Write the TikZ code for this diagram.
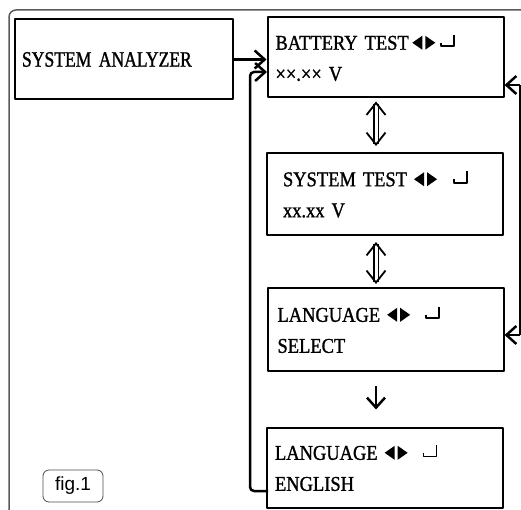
\documentclass[tikz,border=0pt]{standalone}
\usepackage{fontspec}
\setmainfont{Liberation Serif}[FakeStretch=0.88, FakeBold=1.2]
\setsansfont{Liberation Sans}
\usetikzlibrary{arrows.meta}

% small key glyphs used in the menu lines
\newcommand{\navkeys}{\tikz[baseline=0pt,x=1pt,y=1pt]{\fill (0,7) -- (10,14) -- (10,0) -- cycle; \fill (13,0) -- (23,7) -- (13,14) -- cycle;}}
\newcommand{\retkey}{\tikz[baseline=0pt,x=1pt,y=1pt,line width=1.6pt]{\draw (0,7) -- (0,3.5) -- (13,3.5) -- (13,15);}}

\begin{document}
\begin{tikzpicture}[x=1pt, y=-1pt, line join=round, >={Straight Barb[length=10pt,width=18pt]},
  panel/.style={draw, line width=2pt, minimum width=236pt, minimum height=80pt, text width=220pt,
    inner xsep=8pt, align=left, font=\fontsize{21}{31}\selectfont},
  link/.style={line width=2.5pt, ->},
  swap/.style={double, double distance=3pt, line width=1.8pt,
    {Straight Barb[length=12pt,width=19pt]}-{Straight Barb[length=12pt,width=19pt]}}]
  \clip (0,0) rectangle (521,510);
  % --- outer frame ---
  \draw[black!65, line width=1.5pt, rounded corners=7pt] (521,10) -- (9,10) -- (9,515);
  % --- menu boxes ---
  \node[panel, minimum width=218pt, text width=204pt, inner xsep=7pt,
    font=\addfontfeatures{FakeStretch=0.8}\fontsize{22}{22}\selectfont] (analyzer) at (124,59.5) {SYSTEM ANALYZER};
  \node[panel] (battery) at (385.5,57.5) {BATTERY TEST\,\navkeys\hspace{5pt}\retkey\\ ××.×× V};
  \node[panel, minimum height=82pt, text width=204pt, inner xsep=16pt] (systest) at (385,194) {SYSTEM TEST \navkeys\hspace{16pt}\retkey\\ xx.xx V};
  \node[panel, minimum height=83pt, text width=216pt, inner xsep=10pt] (langsel) at (385.5,329.5) {LANGUAGE \navkeys\hspace{15pt}\retkey\\ SELECT};
  \node[panel, text width=220pt, inner xsep=7pt] (langeng) at (385,467.5) {LANGUAGE \navkeys\hspace{15pt}\retkey\\ ENGLISH};
  \node[draw=black!70, line width=0.8pt, rounded corners=6pt, minimum width=60pt, minimum height=32pt,
    font=\sffamily\fontsize{19}{19}\selectfont] (figtag) at (73,486) {fig.1};
  % --- connectors ---
  \draw[link] (analyzer.east) -- (battery.west |- analyzer.east);
  \coordinate (engout) at (268,491);
  \coordinate (batin) at (267,72);
  \draw[link, rounded corners=4pt] (engout) -- ++(-18,0) |- (batin);
  \draw[swap, shorten <=3pt, shorten >=6pt] ([xshift=-9.5pt]battery.south) -- ([xshift=-9pt]systest.north);
  \draw[swap, shorten <=6pt, shorten >=3pt] ([xshift=-9pt]systest.south) -- ([xshift=-9.5pt]langsel.north);
  \draw[link, shorten <=14pt, shorten >=17pt] ([xshift=-9.5pt]langsel.south) -- ([xshift=-9pt]langeng.north);
  % --- return line on the right ---
  \coordinate (rtop) at (520,85);
  \coordinate (rbot) at (520,335);
  \draw[line width=1.5pt] (rtop) -- (rbot);
  \draw[link] (rtop) -- (rtop -| battery.east);
  \draw[link] (rbot) -- (rbot -| langsel.east);
\end{tikzpicture}
\end{document}
